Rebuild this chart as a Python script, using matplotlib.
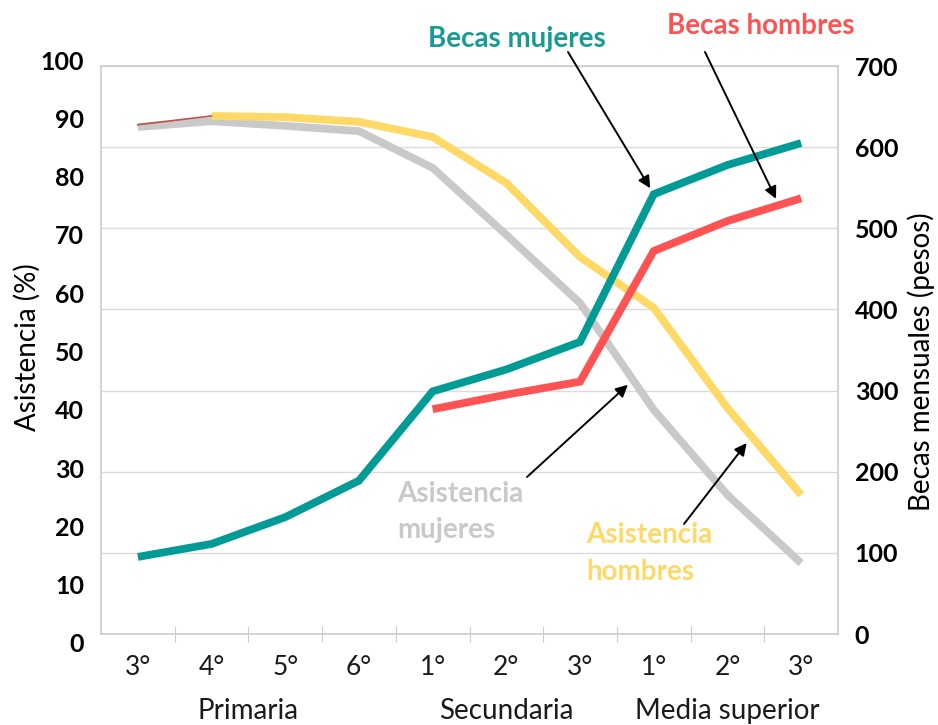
import numpy as np
import matplotlib
matplotlib.use("Agg")
import matplotlib.pyplot as plt
from matplotlib.transforms import blended_transform_factory

plt.rcParams["font.family"] = ["Lato", "DejaVu Sans"]

# Grados escolares y niveles
grados = ["3°", "4°", "5°", "6°", "1°", "2°", "3°", "1°", "2°", "3°"]
niveles = ["Primaria", "Secundaria", "Media superior"]
grados_por_nivel = [4, 3, 3]

# Asistencia escolar (%)
asistencia_mujeres = [88.5, 89.5, 88.7, 87.8, 81.5, 70.0, 58.3, 40.0, 25.4, 13.7]
asistencia_hombres = [88.9, 90.4, 90.2, 89.4, 86.8, 78.9, 66.2, 57.5, 40.3, 25.4]

# Becas mensuales (pesos)
becas_mujeres = [95, 111, 144, 189, 299, 326, 360, 542, 578, 605]
becas_hombres = [np.nan, np.nan, np.nan, np.nan, 277, 295, 311, 472, 509, 537]

C_TEAL = "#009B95"
C_RED = "#FF5252"
C_YELLOW = "#FFD966"
C_GRAY = "#C9C9C9"

W, H = 938, 725


def rect(x0, y0, x1, y1):
    return [x0 / W, 1 - y1 / H, (x1 - x0) / W, (y1 - y0) / H]


fig = plt.figure(figsize=(W / 100, H / 100), dpi=100)
fig.patch.set_facecolor("white")

x = np.arange(len(grados))

# Marco, cuadrícula, eje de categorías y eje de becas
ax = fig.add_axes(rect(101, 66, 838, 634), zorder=1)
ax.set_xlim(-0.5, len(grados) - 0.5)
ax.set_ylim(0, 700)
ax.yaxis.tick_right()
ax.set_yticks(range(0, 701, 100))
ax.tick_params(axis="y", length=0, pad=12, labelsize=18)
for lbl in ax.get_yticklabels():
    lbl.set_fontweight("bold")
ax.grid(axis="y", color="#DCDCDC", lw=1.0)
ax.set_axisbelow(True)
ax.set_xticks(x)
ax.set_xticklabels(grados, fontsize=19, color="#1a1a1a")
ax.tick_params(axis="x", which="major", length=0, pad=15)
ax.set_xticks(np.arange(0.5, len(grados) - 1, 1), minor=True)
ax.tick_params(axis="x", which="minor", direction="inout", length=11,
               width=0.8, color="#CFCFCF")
for s in ax.spines.values():
    s.set_color("#CDCDCD")
    s.set_linewidth(1.2)

# Nombres de los niveles bajo los grados
tr_nivel = blended_transform_factory(ax.transData, fig.transFigure)
inicio = 0
for nivel, n in zip(niveles, grados_por_nivel):
    centro = inicio + (n - 1) / 2
    ax.text(centro, 14 / H, nivel, transform=tr_nivel,
            ha="center", va="center", fontsize=20, color="#1a1a1a")
    inicio += n

# Eje de asistencia (%)
ax_l = fig.add_axes(rect(101, 60, 838, 643), sharex=ax, zorder=2)
ax_l.patch.set_visible(False)
ax_l.set_ylim(0, 100)
ax_l.set_yticks(range(0, 101, 10))
ax_l.tick_params(axis="y", length=0, pad=12, labelsize=18)
for lbl in ax_l.get_yticklabels():
    lbl.set_fontweight("bold")
for s in ax_l.spines.values():
    s.set_visible(False)
ax_l.xaxis.set_visible(False)

# Títulos de los ejes
fig.text(27 / W, 1 - 347 / H, "Asistencia (%)", rotation=90, ha="center",
         va="center", rotation_mode="anchor", fontsize=20)
fig.text(921 / W, 1 - 362 / H, "Becas mensuales (pesos)", rotation=90,
         ha="center", va="center", rotation_mode="anchor", fontsize=20)

lw = 5.6
style = dict(solid_capstyle="butt", solid_joinstyle="miter")
ax_l.plot(x, asistencia_mujeres, color=C_GRAY, lw=lw, **style)
ax_l.plot(x[1:], asistencia_hombres[1:], color=C_YELLOW, lw=lw, **style)
ax_l.plot(x[:2], asistencia_hombres[:2], color="#C0504D", lw=1.2)

# Series de becas
ax_b = fig.add_axes(rect(101, 66, 838, 634), sharex=ax, sharey=ax, zorder=3)
ax_b.axis("off")
ax_b.plot(x, becas_hombres, color=C_RED, lw=lw, **style)
ax_b.plot(x, becas_mujeres, color=C_TEAL, lw=lw, **style)

# Etiquetas de las series con flechas
arrow = dict(arrowstyle="-|>", color="black", lw=1.4, mutation_scale=18,
             shrinkA=0, shrinkB=5)
ax_b.annotate("", xy=(7, becas_mujeres[7]), xycoords=ax_b.transData,
              xytext=(568, H - 52), textcoords="figure pixels",
              arrowprops=arrow, annotation_clip=False)
xh = 8.7
ax_b.annotate("", xy=(xh, np.interp(xh, x[4:], becas_hombres[4:])),
              xycoords=ax_b.transData,
              xytext=(705, H - 52), textcoords="figure pixels",
              arrowprops=arrow, annotation_clip=False)
arrow0 = dict(arrow, shrinkB=0)
ax_b.annotate("", xy=(6.65, 44.3), xycoords=ax_l.transData,
              xytext=(527, H - 477), textcoords="figure pixels",
              arrowprops=arrow0, annotation_clip=False)
ax_b.annotate("", xy=(8.26, 34.3), xycoords=ax_l.transData,
              xytext=(684, H - 524), textcoords="figure pixels",
              arrowprops=arrow0, annotation_clip=False)

lab = dict(fontsize=20, fontweight="bold", va="baseline")
fig.text(517 / W, 1 - 47 / H, "Becas mujeres", ha="center", color="#169C95", **lab)
fig.text(761 / W, 1 - 34 / H, "Becas hombres", ha="center", color=C_RED, **lab)
fig.text(397 / W, 1 - 502 / H, "Asistencia", ha="left", color=C_GRAY, **lab)
fig.text(397 / W, 1 - 538 / H, "mujeres", ha="left", color=C_GRAY, **lab)
fig.text(586 / W, 1 - 543 / H, "Asistencia", ha="left", color=C_YELLOW, **lab)
fig.text(586 / W, 1 - 580 / H, "hombres", ha="left", color=C_YELLOW, **lab)

fig.savefig("out.png", dpi=100, facecolor="white")
